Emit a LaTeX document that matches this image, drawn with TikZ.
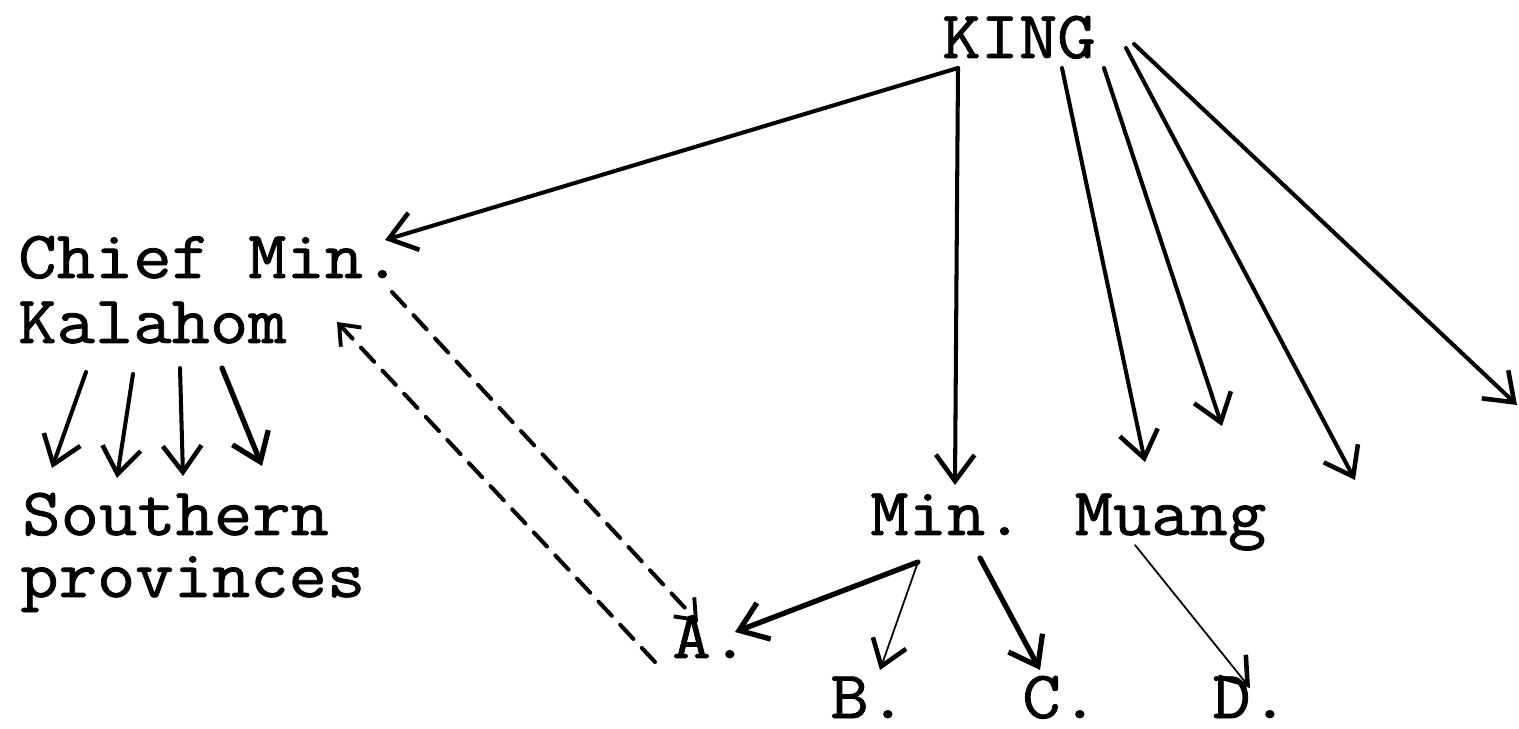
\documentclass[tikz,border=0pt]{standalone}
\usepackage{fontspec}
\newfontfamily\typew{Latin Modern Mono}[FakeBold=1.2,FakeStretch=1.1]
\usetikzlibrary{arrows.meta}
\begin{document}
\begin{tikzpicture}[x=0.02cm,y=-0.02cm,
  lbl/.style={anchor=base west,inner sep=0pt,font=\typew\fontsize{38.5}{44}\selectfont},
  arr/.style={line width=2.3pt,line cap=round,-{Straight Barb[length=15pt,width=22pt,line width=2.6pt]}},
  thinarr/.style={line width=1pt,line cap=round,-{Straight Barb[length=14pt,width=20pt,line width=2.6pt]}},
  thickarr/.style={line width=3pt,line cap=round,-{Straight Barb[length=15pt,width=22pt,line width=3pt]}},
  dsh/.style={line width=2.3pt,line cap=round,dash pattern=on 11pt off 7pt,-{Straight Barb[length=10pt,width=16pt,line width=2.2pt]}}]
\useasboundingbox (0,0) rectangle (1519,729);
\clip (0,0) rectangle (1519,729);
% labels
\node[lbl] (king) at (942,58) {KING};
\node[lbl] (chief) at (18,278) {Chief Min.};
\node[lbl] (kal) at (18,343) {Kalahom};
\node[lbl] (south) at (22,535) {Southern};
\node[lbl] (prov) at (20,597) {provinces};
\node[lbl] (min) at (870,535) {Min. Muang};
\node[lbl] (A) at (672,658) {A.};
\node[lbl] (B) at (830,718) {B.};
\node[lbl] (C) at (1022,718) {C.};
\node[lbl] (D) at (1212,718) {D.};
% connector points
\coordinate (k1) at (958,68);
\coordinate (k2) at (1062,68);
\coordinate (k3) at (1104,68);
\coordinate (k4) at (1126,48);
\coordinate (k5) at (1134,44);
\coordinate (tChief) at (385,240);
\coordinate (tMin) at (955,485);
\coordinate (t3) at (1145,462);
\coordinate (t4) at (1222,426);
\coordinate (t5) at (1355,480);
\coordinate (t6) at (1517,405);
% King arrows
\draw[arr] (k1) -- (tChief);
\draw[arr] (k1) -- (tMin);
\draw[arr] (k2) -- (t3);
\draw[arr] (k3) -- (t4);
\draw[arr] (k4) -- (t5);
\draw[arr] (k5) -- (t6);
% Kalahom to southern provinces
\coordinate (s1) at (86,372); \coordinate (e1) at (52,468);
\coordinate (s2) at (133,374); \coordinate (e2) at (117,478);
\coordinate (s3) at (180,368); \coordinate (e3) at (183,476);
\coordinate (s4) at (222,368); \coordinate (e4) at (262,466);
\draw[arr] (s1) -- (e1);
\draw[arr] (s2) -- (e2);
\draw[arr] (s3) -- (e3);
\draw[thickarr] (s4) -- (e4);
% Min. to A, B, C
\coordinate (mA) at (918,562);
\coordinate (tA) at (735,632);
\coordinate (tB) at (880,670);
\coordinate (mC) at (980,558);
\coordinate (tC) at (1040,670);
\draw[thickarr] (mA) -- (tA);
\draw[thinarr] (mA) -- (tB);
\draw[thickarr] (mC) -- (tC);
% Muang to D
\coordinate (mD) at (1135,545);
\coordinate (tD) at (1250,688);
\draw[thinarr] (mD) -- (tD);
% dashed links
\coordinate (cdot) at (392,292);
\coordinate (tAd) at (698,622);
\coordinate (Ad) at (655,662);
\coordinate (tKal) at (337,322);
\draw[dsh] (cdot) -- (tAd);
\draw[dsh] (Ad) -- (tKal);
\end{tikzpicture}
\end{document}
